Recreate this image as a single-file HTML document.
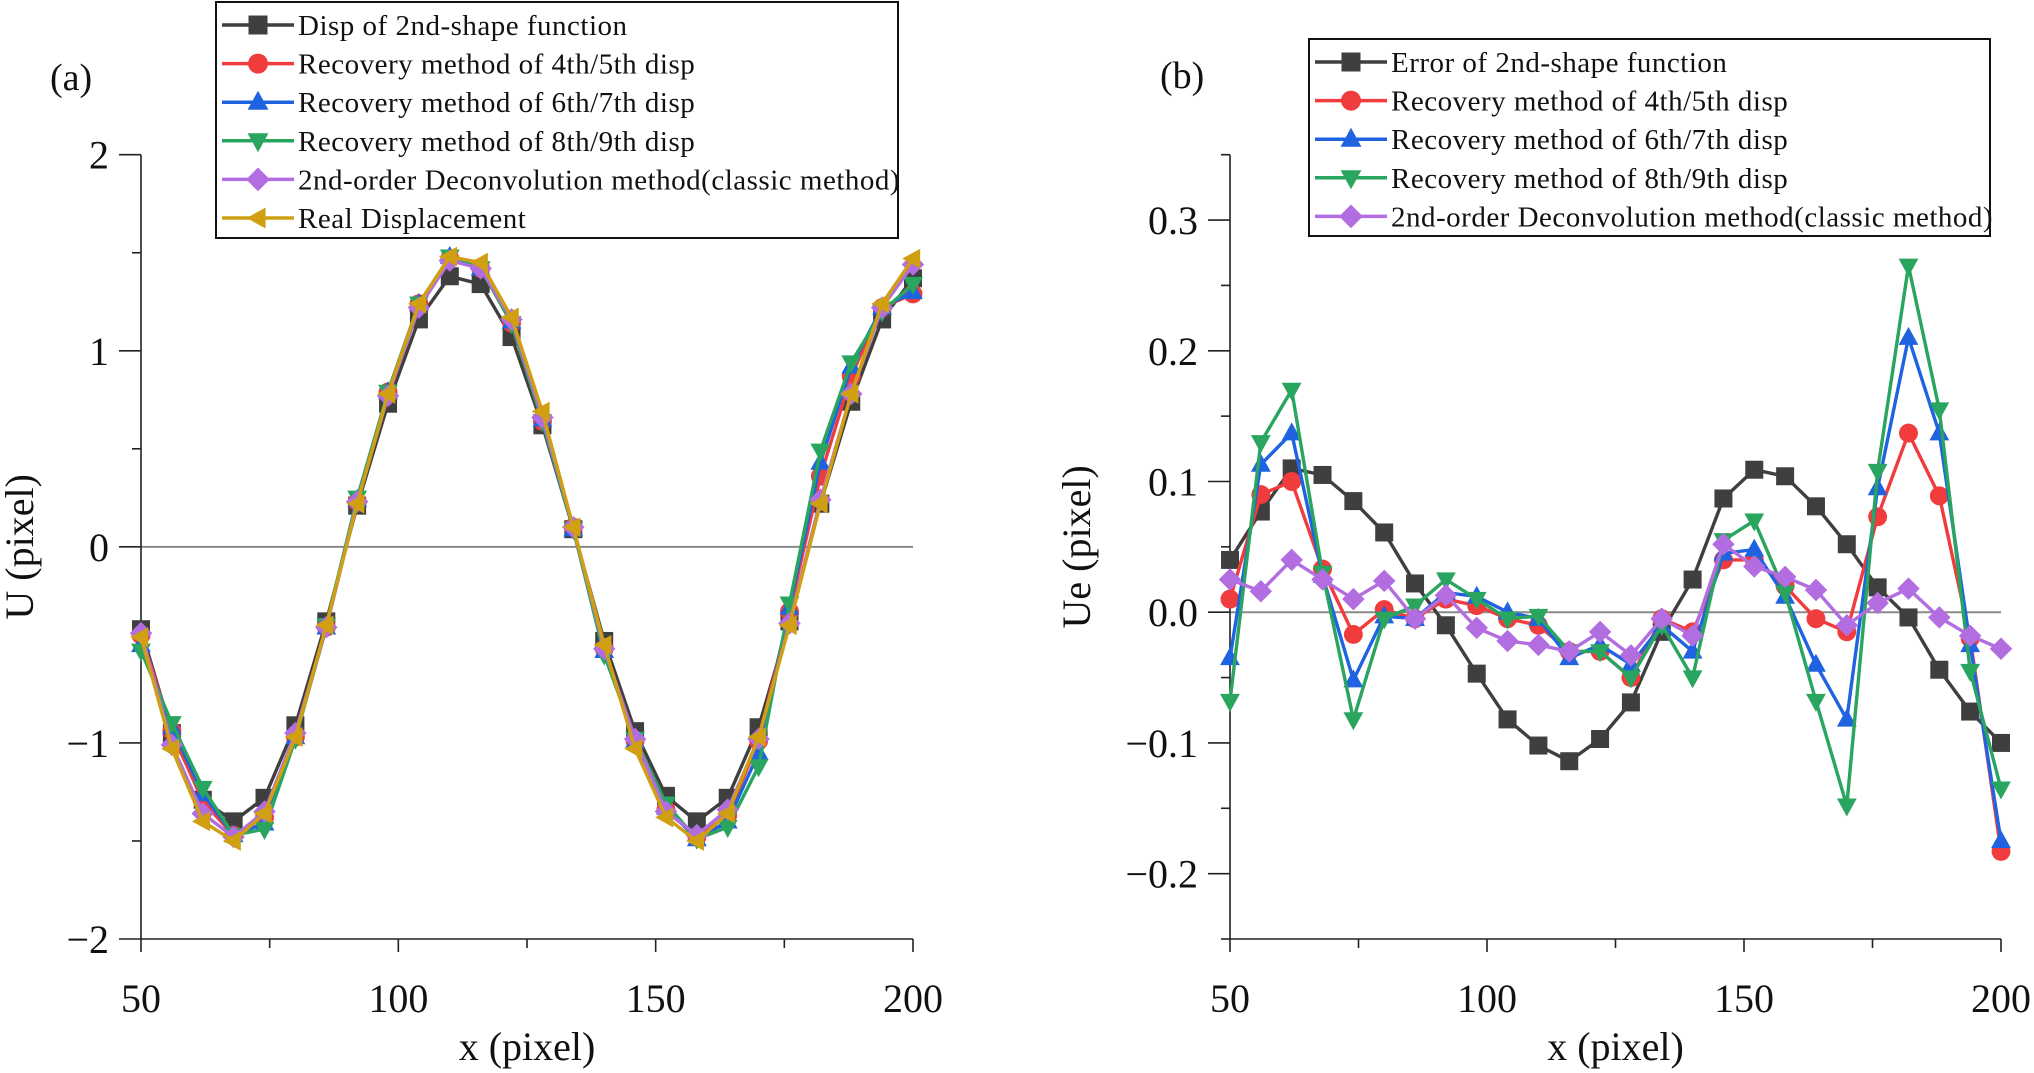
<!DOCTYPE html>
<html><head><meta charset="utf-8"><style>
html,body{margin:0;padding:0;background:#fff;}
svg{display:block;font-family:"Liberation Serif",serif;}
</style></head><body>
<svg id="chart" width="2034" height="1073" viewBox="0 0 2034 1073" xmlns="http://www.w3.org/2000/svg"></svg>
<script>
const xs = [50,56,62,68,74,80,86,92,98,104,110,116,122,128,134,140,146,152,158,164,170,176,182,188,194,200];
// Panel (a) displacement values
const aBlack  = [-0.42,-0.95,-1.29,-1.40,-1.28,-0.91,-0.38,0.21,0.73,1.16,1.38,1.34,1.07,0.62,0.09,-0.48,-0.94,-1.27,-1.40,-1.28,-0.92,-0.38,0.22,0.74,1.16,1.37];
const aRed    = [-0.45,-0.94,-1.30,-1.47,-1.38,-0.97,-0.41,0.23,0.79,1.24,1.47,1.42,1.14,0.64,0.10,-0.52,-0.99,-1.34,-1.48,-1.37,-0.99,-0.33,0.36,0.87,1.22,1.29];
const aBlue   = [-0.50,-0.92,-1.26,-1.47,-1.41,-0.97,-0.41,0.24,0.79,1.24,1.48,1.42,1.15,0.65,0.09,-0.53,-0.99,-1.33,-1.49,-1.40,-1.05,-0.31,0.43,0.92,1.22,1.30];
const aGreen  = [-0.53,-0.90,-1.23,-1.47,-1.44,-0.98,-0.40,0.25,0.79,1.24,1.48,1.42,1.14,0.64,0.09,-0.55,-0.98,-1.31,-1.49,-1.43,-1.12,-0.29,0.49,0.94,1.20,1.34];
const aPurple = [-0.44,-1.01,-1.36,-1.48,-1.35,-0.95,-0.41,0.23,0.77,1.22,1.46,1.42,1.16,0.66,0.10,-0.52,-0.98,-1.35,-1.47,-1.34,-0.98,-0.39,0.24,0.78,1.22,1.44];
const aReal   = [-0.46,-1.03,-1.40,-1.50,-1.36,-0.97,-0.40,0.22,0.78,1.24,1.48,1.45,1.17,0.69,0.10,-0.50,-1.03,-1.38,-1.50,-1.36,-0.97,-0.40,0.22,0.78,1.24,1.47];
// Panel (b) error values
const bBlack  = [0.040,0.077,0.110,0.105,0.085,0.061,0.022,-0.010,-0.047,-0.082,-0.102,-0.114,-0.097,-0.069,-0.015,0.025,0.087,0.109,0.104,0.081,0.052,0.019,-0.004,-0.044,-0.076,-0.100];
const bRed    = [0.010,0.090,0.100,0.033,-0.017,0.002,-0.005,0.010,0.005,-0.005,-0.010,-0.030,-0.030,-0.050,-0.005,-0.015,0.040,0.040,0.020,-0.005,-0.015,0.073,0.137,0.089,-0.020,-0.183];
const bBlue   = [-0.035,0.113,0.137,0.028,-0.052,-0.003,-0.005,0.015,0.012,0.000,-0.005,-0.035,-0.025,-0.040,-0.010,-0.030,0.045,0.048,0.012,-0.040,-0.082,0.095,0.210,0.137,-0.025,-0.175];
const bGreen  = [-0.068,0.130,0.170,0.030,-0.082,-0.005,0.005,0.025,0.010,-0.005,-0.003,-0.030,-0.030,-0.050,-0.010,-0.050,0.055,0.070,0.015,-0.068,-0.148,0.108,0.265,0.155,-0.045,-0.135];
const bPurple = [0.025,0.016,0.040,0.025,0.010,0.024,-0.005,0.013,-0.012,-0.022,-0.025,-0.030,-0.015,-0.033,-0.005,-0.018,0.052,0.035,0.027,0.017,-0.010,0.007,0.018,-0.004,-0.018,-0.028];
const xTicks = [50,100,150,200];
const aYTicks = [-2,-1,0,1,2];
const aYTickLabels = ["\u22122","\u22121","0","1","2"];
const bYTicks = [-0.2,-0.1,0.0,0.1,0.2,0.3];
const bYTickLabels = ["\u22120.2","\u22120.1","0.0","0.1","0.2","0.3"];
const aLegend = ["Disp of 2nd-shape function","Recovery method of 4th/5th disp","Recovery method of 6th/7th disp","Recovery method of 8th/9th disp","2nd-order Deconvolution method(classic method)","Real Displacement"];
const bLegend = ["Error of 2nd-shape function","Recovery method of 4th/5th disp","Recovery method of 6th/7th disp","Recovery method of 8th/9th disp","2nd-order Deconvolution method(classic method)"];

const NS="http://www.w3.org/2000/svg";
const svg=document.getElementById('chart');
function el(tag,attrs,parent,text){const e=document.createElementNS(NS,tag);for(const k in attrs)e.setAttribute(k,attrs[k]);if(text!==undefined)e.textContent=text;(parent||svg).appendChild(e);return e;}
const COLORS=["#3f3f3f","#f03c3c","#1f63e0","#2aa55f","#b26ee0","#d19f12"];
const MARKS=["square","circle","up","down","diamond","left"];
function marker(g,type,cx,cy,c,s){
  let e;
  if(type==="square") e=el('rect',{x:cx-s,y:cy-s,width:2*s,height:2*s,fill:c},g);
  else if(type==="circle") e=el('circle',{cx:cx,cy:cy,r:s*1.05,fill:c},g);
  else{
    let p;
    if(type==="up") p=[[cx,cy-s*1.2],[cx+s*1.1,cy+s*0.8],[cx-s*1.1,cy+s*0.8]];
    else if(type==="down") p=[[cx,cy+s*1.2],[cx+s*1.1,cy-s*0.8],[cx-s*1.1,cy-s*0.8]];
    else if(type==="diamond") p=[[cx,cy-s*1.25],[cx+s*1.25,cy],[cx,cy+s*1.25],[cx-s*1.25,cy]];
    else p=[[cx-s*1.2,cy],[cx+s*0.8,cy-s*1.1],[cx+s*0.8,cy+s*1.1]];
    e=el('polygon',{points:p.map(q=>q.join(',')).join(' '),fill:c},g);
  }
  
  
}
function panel(o){
  const X=v=>o.x0+(v-50)/150*(o.x1-o.x0);
  const Y=v=>o.yTopPx+(o.yMax-v)/(o.yMax-o.yMin)*(o.yBotPx-o.yTopPx);
  const g=el('g',{});
  
  
  const z=el('line',{x1:o.x0,x2:o.x1,y1:Y(0),y2:Y(0),stroke:'#8a8a8a','stroke-width':2},g);
  
  
  const ax=el('path',{d:`M${o.x0},${o.yTopPx} V${o.yBotPx} H${o.x1}`,fill:'none',stroke:'#222','stroke-width':1.6},g);
  
  
  for(let v=50;v<=200;v+=25){
    const major=xTicks.includes(v);
    el('line',{x1:X(v),x2:X(v),y1:o.yBotPx,y2:o.yBotPx+(major?13:9),stroke:'#222','stroke-width':1.6},g);
  }
  xTicks.forEach(v=>{const t=el('text',{x:X(v),y:1012,'font-size':40,'text-anchor':'middle',fill:'#111'},g,String(v));
    });
  o.yTicks.forEach((v,i)=>{
    el('line',{x1:o.x0-22,x2:o.x0,y1:Y(v),y2:Y(v),stroke:'#222','stroke-width':1.6},g);
    const t=el('text',{x:o.x0-32,y:Y(v)+14,'font-size':40,'text-anchor':'end',fill:'#111'},g,o.yLabels[i]);
    
  });
  o.minor.forEach(v=>el('line',{x1:o.x0-9,x2:o.x0,y1:Y(v),y2:Y(v),stroke:'#222','stroke-width':1.6},g));
  const xt=el('text',{x:(o.x0+o.x1)/2,y:1060,'font-size':40,'text-anchor':'middle',fill:'#111'},g,'x (pixel)');
  
  const yt=el('text',{x:0,y:0,'font-size':40,'text-anchor':'middle',fill:'#111',transform:`translate(${o.yTitleX},${(o.yTopPx+o.yBotPx)/2}) rotate(-90)`},g,o.yTitle);
  
  const pl=el('text',{x:o.lblX,y:o.lblY,'font-size':38,fill:'#111'},g,o.lbl);
  
  o.series.forEach((s,k)=>{
    const sg=el('g',{},g);
    
    
    const pts=xs.map((x,i)=>X(x).toFixed(1)+','+Y(s[i]).toFixed(1)).join(' ');
    el('polyline',{points:pts,fill:'none',stroke:COLORS[k],'stroke-width':3.4,'stroke-linejoin':'round'},sg);
    xs.forEach((x,i)=>marker(sg,MARKS[k],X(x),Y(s[i]),COLORS[k],9));
  });
  const lg=el('g',{},g);
  
  
  el('rect',{x:o.lx0,y:o.ly0,width:o.lx1-o.lx0,height:o.ly1-o.ly0,fill:'#fff',stroke:'#111','stroke-width':2},lg);
  o.legend.forEach((txt,k)=>{
    const ry=o.ly0+23+k*o.lstep;
    const e=el('g',{},lg);
    
    
    el('line',{x1:o.lx0+6,x2:o.lx0+78,y1:ry,y2:ry,stroke:COLORS[k],'stroke-width':3.5},e);
    marker(e,MARKS[k],o.lx0+42,ry,COLORS[k],9.5);
    el('text',{x:o.lx0+82,y:ry+10,'font-size':29,'letter-spacing':'0.5',fill:'#111'},e,txt);
  });
}
panel({name:'panel-a',x0:141,x1:913,yTopPx:154.7,yBotPx:939,yMin:-2,yMax:2,yTicks:aYTicks,yLabels:aYTickLabels,
  minor:[-1.5,-0.5,0.5,1.5],yTitle:'U (pixel)',yTitleX:33,lbl:'(a)',lblX:50,lblY:90,
  series:[aBlack,aRed,aBlue,aGreen,aPurple,aReal],legend:aLegend,lx0:216,lx1:898,ly0:2,ly1:238,lstep:38.6});
panel({name:'panel-b',x0:1230,x1:2001,yTopPx:154.7,yBotPx:939,yMin:-0.25,yMax:0.35,yTicks:bYTicks,yLabels:bYTickLabels,
  minor:[-0.25,-0.15,-0.05,0.05,0.15,0.25,0.35],yTitle:'Ue (pixel)',yTitleX:1090,lbl:'(b)',lblX:1160,lblY:88,
  series:[bBlack,bRed,bBlue,bGreen,bPurple],legend:bLegend,lx0:1309,lx1:1990,ly0:39,ly1:236,lstep:38.6});
</script>
</body></html>
